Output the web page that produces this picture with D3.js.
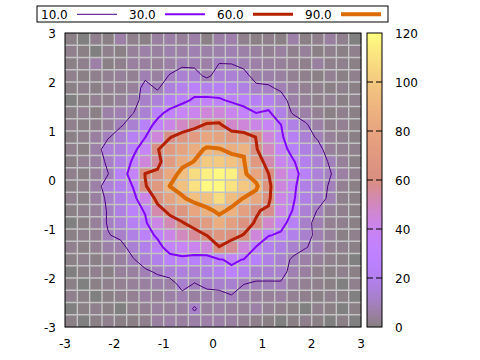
<!DOCTYPE html>
<html><head><meta charset="utf-8">
<script src="https://cdn.jsdelivr.net/npm/d3@7"></script>
<style>
body{margin:0;background:#fff}
svg{display:block}
text{font-family:"DejaVu Sans",sans-serif;font-size:12px;fill:#000}
</style>
</head><body>
<svg id="chart" width="480" height="360"></svg>
<script>
// ---- data ----
const xTicks = [-3, -2, -1, 0, 1, 2, 3];
const yTicks = [-3, -2, -1, 0, 1, 2, 3];
const cbTicks = [0, 20, 40, 60, 80, 100, 120];
const levels = [10, 30, 60, 90];
const levelLabels = ["10.0", "30.0", "60.0", "90.0"];
// grid rows, top (y = 2.875) to bottom (y = -2.875), columns x = -2.875 .. 2.875
const r00 = [1,0,2,1,6,2,1,5,6,4,6,1,6,7,2,1,2,1,6,1,2,5,2,0];
const r01 = [2,1,0,2,1,4,6,5,7,6,8,6,7,8,6,5,3,5,2,4,1,2,1,2];
const r02 = [1,2,6,1,2,5,5,4,6,8.5,8,6,10.05,9.9,8,6,5,4,3,2,5,2,2,1];
const r03 = [2,1,2,3,4,3,8,5,10.7,13.5,13.5,8,14,14,12.5,7,6.5,5,3,2,1,3,1,2];
const r04 = [1,2,1,3,3,4,13.5,9,16,20,25,20,22,20,17,12,11.3,8.5,5,3,2,1,2,1];
const r05 = [0,1,3,2,4,8,12,15,22,27,32,34,32,28,25,22,20,14,6,4,2,3,1,2];
const r06 = [1,3,1,6,8,9.7,13.5,26,33.5,38,40,45,45,40,35,29.7,32.5,18,8.6,6,3,1,2,1];
const r07 = [2,1,2,4,9,13.5,24,34,42,49,55,62,63,48,45,42,38,30.3,18,11,6,2,3,1];
const r08 = [1,2,5,9.3,14,22,29.7,45,59,67,71,80,78,72,69,59.5,45,32,22,14,8.7,4,2,1];
const r09 = [2,1,6,15,16,26,38,59,70,78,85,92,91,86,88.5,61,50,37,24,17,13.7,4.5,3,2];
const r10 = [1,3,5,12,18,32,45,55,72,85,90.6,100,100,97,91,69,53,40,31.5,20,14,9,4,1];
const r11 = [2,1,4,9.8,24,35,60.5,63,82,95,108,115,118,115,93,79,60.3,45,35,24,15,10.5,5.5,2];
const r12 = [1,2,6,15,20,30.5,59,69,90.3,96,110,118,118,110,99.5,94,64,44,34,18,14,9,3,1];
const r13 = [2,1,5,12,18,25,42,66,78,88,95.5,96.3,108,94,89.5,81.5,63,42,32,18,13,8.5,2,1];
const r14 = [1,2,4,11,17,25,31,53,65,66,80,87.7,92,88.3,75,61,58,42,29,14,9.6,4,2,1];
const r15 = [0,1,4,11,15,22,28,42,52,59.4,63.7,72,86,75,63,59.2,48,36,23,12,8,3,2,1];
const r16 = [1,2,3,9.5,12,18,25,32,42,50,56,60.3,67,62,59.7,45,31,27.5,19,12.5,8,4,1,2];
const r17 = [2,1,3,6,7,13.5,19,26,35,38,40,45,59.5,57,45,29,20,17,12.7,10.4,8,3,2,1];
const r18 = [1,2,1,3,5,9.2,14,19,25.5,27,24,22,29,32,29.5,24,18,13,8.9,6,4,2,1,0];
const r19 = [0,1,2,1,4,5,8.5,11,14,16,14,17,20,27.5,20,13,13,12.5,7.4,5,2,1,2,1];
const r20 = [1,0,1,2,3,4,5,6.5,6,13,9.5,12,12.5,13,10.1,9,9,9.2,5,3,2,1,0,2];
const r21 = [2,1,0,1,2,3,5,4,6,7.5,5,7,7.5,9.6,6,5,4,5,3,2,1,2,1,0];
const r22 = [0,1,2,1,0,2,3,5,4,5,11,5,6,5,4,6,3,2,1,0,2,1,0,1];
const r23 = [1,0,1,2,1,1,2,5,6,5,6,6,6,5,3,2,1,0,1,2,1,0,1,0];
const rows = [r00,r01,r02,r03,r04,r05,r06,r07,r08,r09,r10,r11,r12,r13,r14,r15,r16,r17,r18,r19,r20,r21,r22,r23];

// ---- setup ----
const nx = rows[0].length, ny = rows.length;
const x0 = -3, x1 = 3, y0 = -3, y1 = 3, cmax = 120;
const dx = (x1 - x0) / nx, dy = (y1 - y0) / ny;
const svg = d3.select("#chart");
const x = d3.scaleLinear([x0, x1], [65, 361]);
const y = d3.scaleLinear([y0, y1], [327, 33]);

// gnuplot default palette (rgbformulae 7,5,15)
function base(v) {
  const t = Math.max(0, Math.min(1, v / cmax));
  return [Math.sqrt(t), t * t * t, Math.max(0, Math.sin(2 * Math.PI * t))];
}
const toRgb = c => d3.rgb(c[0] * 255, c[1] * 255, c[2] * 255).toString();
const cellColor = v => toRgb(base(v).map(c => 0.5 + 0.5 * c));
const lineColor = v => toRgb(base(v));

// ---- cells ----
const cells = [];
rows.forEach((row, j) => row.forEach((v, i) => cells.push({i, j, v})));
svg.append("g").selectAll("rect").data(cells).join("rect")
  .attr("x", d => x(x0 + d.i * dx))
  .attr("y", d => y(y1 - d.j * dy))
  .attr("width", x(x0 + dx) - x(x0) + 0.3)
  .attr("height", y(y1 - dy) - y(y1) + 0.3)
  .attr("fill", d => cellColor(d.v));

// ---- cell grid lines ----
const gridG = svg.append("g").attr("stroke", "#c4c4c4").attr("stroke-width", 1.4);
gridG.selectAll("line.v").data(d3.range(1, nx)).join("line")
  .attr("x1", i => x(x0 + i * dx)).attr("x2", i => x(x0 + i * dx))
  .attr("y1", y(y0)).attr("y2", y(y1));
gridG.selectAll("line.h").data(d3.range(1, ny)).join("line")
  .attr("y1", j => y(y1 - j * dy)).attr("y2", j => y(y1 - j * dy))
  .attr("x1", x(x0)).attr("x2", x(x1));

// ---- contours ----
const flat = rows.flat();
const contours = d3.contours().size([nx, ny]).thresholds(levels)(flat);
const proj = d3.geoTransform({
  point: function(px, py) { this.stream.point(x(x0 + px * dx), y(y1 - py * dy)); }
});
const path = d3.geoPath(proj);
svg.append("g").selectAll("path").data(contours).join("path")
  .attr("d", path)
  .attr("fill", "none")
  .attr("stroke", d => lineColor(d.value))
  .attr("stroke-width", (d, k) => k + 1)
  .attr("stroke-linejoin", "miter");

// ---- frame ----
svg.append("rect").attr("x", 65).attr("y", 33).attr("width", 296).attr("height", 294)
  .attr("fill", "none").attr("stroke", "#000").attr("stroke-width", 1);

// ---- axis labels ----
svg.append("g").selectAll("text").data(xTicks).join("text")
  .attr("x", d => x(d)).attr("y", 348).attr("text-anchor", "middle").text(d => d);
svg.append("g").selectAll("text").data(yTicks).join("text")
  .attr("x", 56).attr("y", d => y(d) + 4.5).attr("text-anchor", "end").text(d => d);

// ---- colorbar ----
const cb = d3.scaleLinear([0, cmax], [327, 33]);
const cbG = svg.append("g");
cbG.selectAll("rect").data(d3.range(0, 294)).join("rect")
  .attr("x", 367).attr("width", 15)
  .attr("y", k => 327 - k - 1).attr("height", 1.2)
  .attr("fill", k => cellColor(cb.invert(327 - k - 0.5)));
cbG.append("rect").attr("x", 367).attr("y", 33).attr("width", 15).attr("height", 294)
  .attr("fill", "none").attr("stroke", "#000");
const cbInner = cbTicks.filter(t => t > 0 && t < cmax);
cbG.selectAll("line.l").data(cbInner).join("line")
  .attr("x1", 367).attr("x2", 373).attr("y1", d => cb(d)).attr("y2", d => cb(d))
  .attr("stroke", "#000");
cbG.selectAll("line.r").data(cbInner).join("line")
  .attr("x1", 376).attr("x2", 382).attr("y1", d => cb(d)).attr("y2", d => cb(d))
  .attr("stroke", "#000");
cbG.selectAll("text").data(cbTicks).join("text")
  .attr("x", 395).attr("y", d => cb(d) + 4.5).text(d => d);

// ---- legend ----
const lg = svg.append("g");
lg.append("rect").attr("x", 37).attr("y", 6).attr("width", 351).attr("height", 16)
  .attr("fill", "#fff").attr("stroke", "#000");
levels.forEach((lv, k) => {
  const ox = 41 + k * 88;
  lg.append("text").attr("x", ox).attr("y", 19).text(levelLabels[k]);
  lg.append("line").attr("x1", ox + 36).attr("x2", ox + 76)
    .attr("y1", 14.3).attr("y2", 14.3)
    .attr("stroke", lineColor(lv)).attr("stroke-width", k + 1);
});
</script>
</body></html>
